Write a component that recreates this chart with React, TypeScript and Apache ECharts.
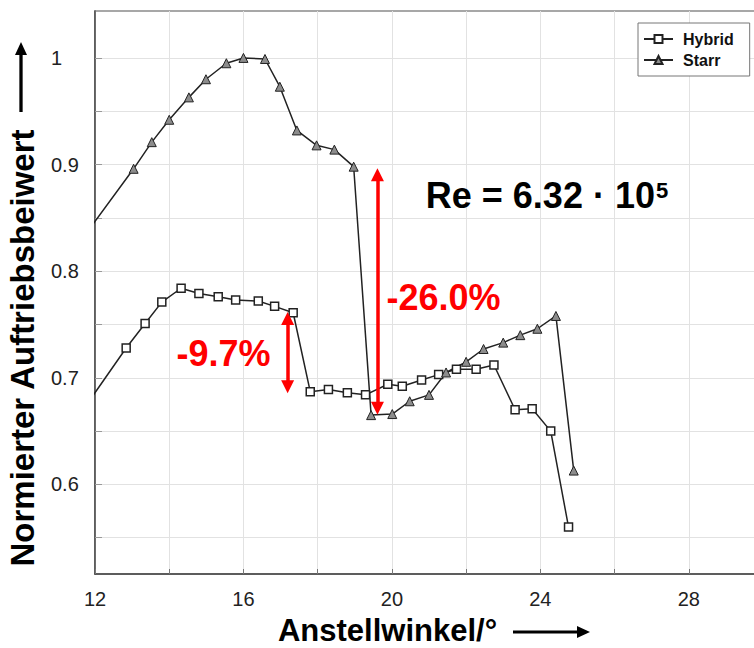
import React, { useEffect, useRef } from "react";
import * as echarts from "echarts";

// Hybrid (squares)
const hybridAngle = [11.9, 12.84, 13.35, 13.8, 14.32, 14.8, 15.32, 15.79, 16.4, 16.84, 17.34, 17.8, 18.29, 18.8, 19.29, 19.89, 20.28, 20.8, 21.26, 21.74, 22.27, 22.75, 23.32, 23.78, 24.28, 24.76];
const hybridValue = [0.681, 0.728, 0.751, 0.771, 0.784, 0.779, 0.776, 0.773, 0.772, 0.767, 0.761, 0.687, 0.689, 0.686, 0.684, 0.694, 0.692, 0.698, 0.703, 0.708, 0.708, 0.712, 0.670, 0.671, 0.650, 0.560];

// Starr (triangles)
const starrAngle = [11.9, 13.04, 13.53, 14.0, 14.53, 14.99, 15.54, 16.0, 16.58, 16.98, 17.44, 17.97, 18.45, 18.97, 19.44, 20.01, 20.48, 21.0, 21.46, 22.0, 22.47, 23.0, 23.46, 23.92, 24.42, 24.9];
const starrValue = [0.842, 0.896, 0.921, 0.942, 0.963, 0.980, 0.995, 1.0, 0.999, 0.973, 0.932, 0.918, 0.914, 0.898, 0.665, 0.666, 0.678, 0.684, 0.705, 0.715, 0.727, 0.733, 0.740, 0.746, 0.758, 0.613];

const xTickLabels = [12, 16, 20, 24, 28];
const yTickValues = [0.55, 0.6, 0.65, 0.7, 0.75, 0.8, 0.85, 0.9, 0.95, 1.0];
const yTickLabels = [0.6, 0.7, 0.8, 0.9, 1.0];

// Annotation arrows: [angle, from value, to value]
const arrowSmall = [17.19, 0.7555, 0.6915];
const arrowLarge = [19.61, 0.8905, 0.6715];

const FONT = '"Liberation Sans", Arial, sans-serif';

export default function App() {
  const ref = useRef<HTMLDivElement>(null);
  useEffect(() => {
    if (!ref.current) return;
    const chart = echarts.init(ref.current, undefined, { renderer: "svg" });
    chart.setOption({
      animation: false,
      backgroundColor: "#fff",
      grid: {
        left: 95,
        top: 11,
        right: 7,
        bottom: 74,
        show: true,
        borderColor: "#8a8a8a",
        borderWidth: 1.5,
        backgroundColor: "#fff",
      },
      legend: {
        orient: "vertical",
        left: 638,
        top: 23,
        padding: [8, 16, 8, 5],
        itemGap: 5,
        itemWidth: 29,
        itemHeight: 10,
        backgroundColor: "#fff",
        borderColor: "#777",
        borderWidth: 1,
        textStyle: { fontSize: 16, fontWeight: "bold", color: "#111", fontFamily: FONT, padding: [0, 0, 0, 5] },
        data: ["Hybrid", "Starr"],
      },
      xAxis: {
        type: "value",
        min: 12,
        max: 30,
        interval: 2,
        axisLine: { show: true, lineStyle: { color: "#444", width: 1.5 } },
        axisTick: { show: true, inside: true, length: 5, lineStyle: { color: "#777" } },
        axisLabel: {
          margin: 15,
          fontSize: 20,
          color: "#222",
          fontFamily: FONT,
          formatter: (v: number) => (xTickLabels.indexOf(v) >= 0 ? String(v) : ""),
        },
        splitLine: { show: true, lineStyle: { color: "#e2e2e2", width: 1 } },
      },
      yAxis: {
        type: "value",
        min: 0.516,
        max: 1.044,
        axisLine: { show: true, lineStyle: { color: "#444", width: 1.5 } },
        axisTick: { show: true, inside: true, length: 7, lineStyle: { color: "#999" }, customValues: yTickValues },
        axisLabel: {
          customValues: yTickLabels,
          align: "left",
          margin: 44,
          fontSize: 20,
          color: "#222",
          fontFamily: FONT,
          padding: [6, 0, 0, 0],
          formatter: (v: number) => (Math.abs(v - 1) < 1e-9 ? "1" : v.toFixed(1)),
        },
        splitLine: { show: true, lineStyle: { color: "#e2e2e2", width: 1 } },
      },
      series: [
        {
          name: "Hybrid",
          type: "line",
          data: hybridAngle.map((a, i) => [a, hybridValue[i]]),
          symbol: "rect",
          symbolSize: 8,
          lineStyle: { color: "#222", width: 1.5 },
          itemStyle: { color: "#fff", borderColor: "#222", borderWidth: 1.5 },
          z: 3,
        },
        {
          name: "Starr",
          type: "line",
          data: starrAngle.map((a, i) => [a, starrValue[i]]),
          symbol: "triangle",
          symbolSize: 9,
          lineStyle: { color: "#222", width: 1.5 },
          itemStyle: { color: "#8c8c8c", borderColor: "#222", borderWidth: 1 },
          z: 3,
          markLine: {
            silent: true,
            symbol: ["triangle", "triangle"],
            symbolSize: 13,
            label: { show: false },
            lineStyle: { color: "#ff0000", width: 3.5, type: "solid" },
            itemStyle: { color: "#ff0000" },
            z: 5,
            data: [
              [{ coord: [arrowSmall[0], arrowSmall[1]] }, { coord: [arrowSmall[0], arrowSmall[2]] }],
              [{ coord: [arrowLarge[0], arrowLarge[1]] }, { coord: [arrowLarge[0], arrowLarge[2]] }],
            ],
          },
        },
      ],
      graphic: [
        {
          type: "text",
          z: 10,
          style: { x: 223.5, y: 353, text: "-9.7%", fill: "#ff0000", font: `bold 36px ${FONT}`, textAlign: "center", textVerticalAlign: "middle" },
        },
        {
          type: "text",
          z: 10,
          style: { x: 443.5, y: 297.5, text: "-26.0%", fill: "#ff0000", font: `bold 36px ${FONT}`, textAlign: "center", textVerticalAlign: "middle" },
        },
        {
          type: "text",
          z: 10,
          style: {
            x: 547,
            y: 195.5,
            text: "{a|Re = 6.32 · 10}{b|5}",
            textAlign: "center",
            textVerticalAlign: "middle",
            rich: {
              a: { fontSize: 36, fontWeight: "bold", fontFamily: FONT, fill: "#000", color: "#000", lineHeight: 40 },
              b: { fontSize: 22, fontWeight: "bold", fontFamily: FONT, fill: "#000", color: "#000", verticalAlign: "top", padding: [4, 0, 0, 1] },
            },
          },
        },
        {
          type: "text",
          style: { x: 387.5, y: 630, text: "Anstellwinkel/°", fill: "#000", font: `bold 31px ${FONT}`, textAlign: "center", textVerticalAlign: "middle" },
        },
        { type: "line", shape: { x1: 513, y1: 632, x2: 580, y2: 632 }, style: { stroke: "#000", lineWidth: 3 } },
        { type: "polygon", shape: { points: [[590, 632], [577, 626], [577, 638]] }, style: { fill: "#000" } },
        {
          type: "text",
          x: 22,
          y: 348,
          rotation: Math.PI / 2,
          style: { x: 0, y: 0, text: "Normierter Auftriebsbeiwert", fill: "#000", font: `bold 33px ${FONT}`, textAlign: "center", textVerticalAlign: "middle" },
        },
        { type: "line", shape: { x1: 21, y1: 112, x2: 21, y2: 52 }, style: { stroke: "#000", lineWidth: 3.3 } },
        { type: "polygon", shape: { points: [[21, 42], [15, 55], [27, 55]] }, style: { fill: "#000" } },
      ],
    });
    return () => chart.dispose();
  }, []);
  return (
    <div style={{ position: "fixed", left: 0, top: 0, width: 754, height: 648, overflow: "hidden", background: "#fff" }}>
      <div ref={ref} style={{ width: 770, height: 648 }} />
    </div>
  );
}
